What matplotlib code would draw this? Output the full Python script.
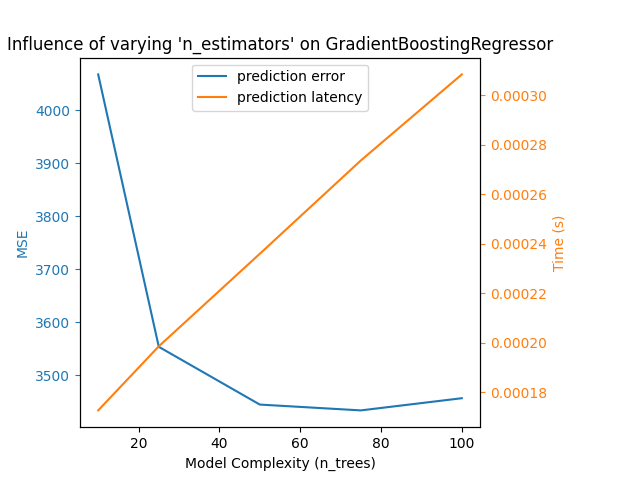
import matplotlib
matplotlib.use("Agg")
import matplotlib.pyplot as plt

n_trees = [10, 25, 50, 75, 100]
mse = [4068, 3554, 3445, 3434, 3457]
latency = [0.0001727, 0.0001986, 0.000236, 0.0002737, 0.0003085]

fig = plt.figure(figsize=(6.4, 4.8), dpi=100)
fig.subplots_adjust(right=0.75)
ax1 = fig.add_subplot(111)
l1 = ax1.plot(n_trees, mse, c="tab:blue", ls="-")[0]
ax1.set_xlabel("Model Complexity (n_trees)")
ax1.set_ylabel("MSE", color="tab:blue")
ax1.tick_params(axis="y", colors="tab:blue")
ax2 = ax1.twinx()
l2 = ax2.plot(n_trees, latency, c="tab:orange", ls="-")[0]
ax2.set_ylabel("Time (s)", color="tab:orange")
ax2.tick_params(axis="y", colors="tab:orange")
ax2.legend([l1, l2], ["prediction error", "prediction latency"], loc="upper center")
ax1.set_title("Influence of varying 'n_estimators' on GradientBoostingRegressor")
fig.savefig("out.png")
